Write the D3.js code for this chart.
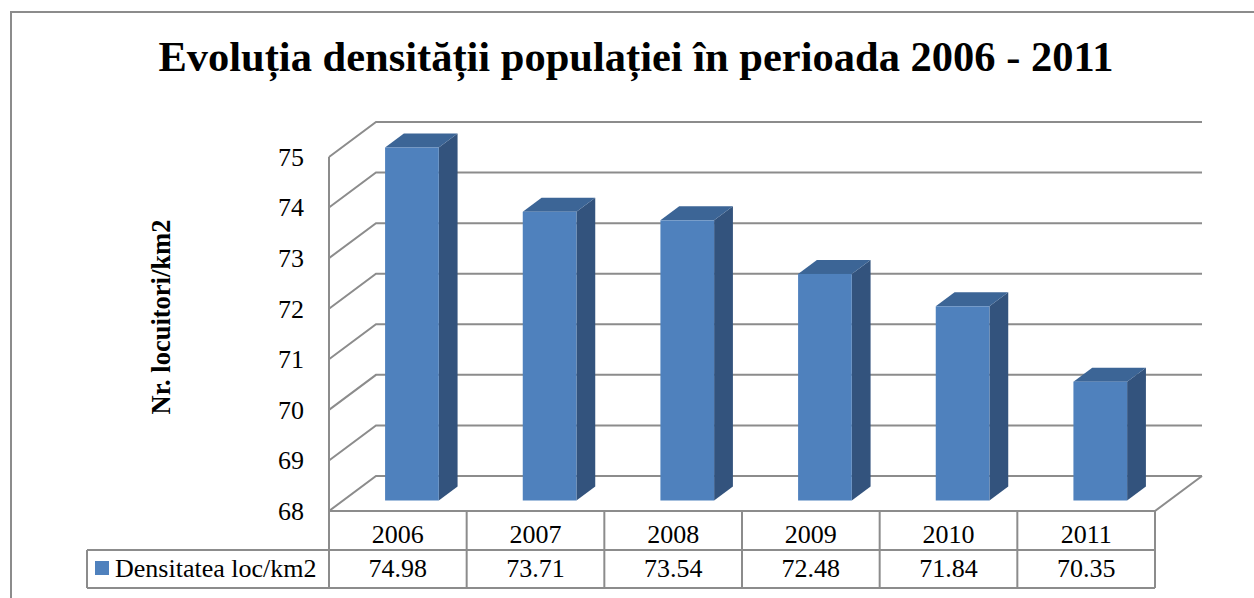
<!DOCTYPE html>
<html>
<head>
<meta charset="utf-8">
<script src="https://cdn.jsdelivr.net/npm/d3@7"></script>
<style>
  body { margin: 0; background: #fff; }
</style>
</head>
<body>
<div id="chart"></div>
<script>
// data
const years = ["2006", "2007", "2008", "2009", "2010", "2011"];
const densities = [74.98, 73.71, 73.54, 72.48, 71.84, 70.35];
const yTicks = [68, 69, 70, 71, 72, 73, 74, 75];
const seriesName = "Densitatea loc/km2";
const chartTitle = "Evoluția densității populației în perioada 2006 - 2011";
const yTitle = "Nr. locuitori/km2";

const W = 1254, H = 598;
const gridColor = "#8c8c8c";
const DX = 47, DY = -35; // depth of the 3d box

let svg = d3.select("#chart")
    .append("svg")
    .attr("width", W)
    .attr("height", H)
    .style("font-family", '"Liberation Serif", "Times New Roman", serif');

// outer frame
svg.append("path")
    .attr("d", "M11,598 L11,12 L1254,12")
    .attr("fill", "none")
    .attr("stroke", gridColor)
    .attr("stroke-width", 2);

let x = d3.scaleBand().domain(years).range([329, 1155]);
let y = d3.scaleLinear().domain([68, 75]).range([511, 157]);

// title
svg.append("text")
    .attr("x", 636)
    .attr("y", 71)
    .attr("text-anchor", "middle")
    .style("font-size", "42.5px")
    .style("font-weight", "bold")
    .text(chartTitle);

// y title
svg.append("text")
    .attr("transform", "translate(170,317) rotate(-90)")
    .attr("text-anchor", "middle")
    .style("font-size", "26.5px")
    .style("font-weight", "bold")
    .text(yTitle);

let x0 = x.range()[0], x1 = x.range()[1];

// gridlines: side wall + back wall
let grid = svg.append("g")
    .attr("fill", "none")
    .attr("stroke", gridColor)
    .attr("stroke-width", 2);
yTicks.forEach(function(t) {
    grid.append("path")
        .attr("d", `M${x0},${y(t)} L${x0 + DX},${y(t) + DY} L${x1 + DX},${y(t) + DY}`);
});
// front vertical axis + floor outline
grid.append("path")
    .attr("d", `M${x0},${y(75)} L${x0},${y(68)} L${x1},${y(68)} L${x1 + DX},${y(68) + DY}`);

// tick labels
svg.append("g").selectAll("text")
    .data(yTicks)
    .enter().append("text")
    .attr("x", 304)
    .attr("y", d => y(d))
    .attr("dy", "0.34em")
    .attr("text-anchor", "end")
    .style("font-size", "26px")
    .text(d => d);

// bars
const d1 = 0.3, d2 = 0.7;
const bw = x.bandwidth() * 0.39;
let bars = svg.append("g").selectAll("g")
    .data(years.map((yr, i) => ({year: yr, value: densities[i]})))
    .enter().append("g");

function face(d) {
    let left = x(d.year) + (x.bandwidth() - bw) / 2 + DX * d1;
    let right = left + bw;
    let top = y(d.value) + DY * d1;
    let bottom = y(68) + DY * d1;
    let ddx = DX * (d2 - d1), ddy = DY * (d2 - d1);
    return {left, right, top, bottom, ddx, ddy};
}

bars.append("path")
    .attr("fill", "#33537d")
    .attr("d", function(d) {
        let f = face(d);
        return `M${f.right},${f.top} L${f.right + f.ddx},${f.top + f.ddy} L${f.right + f.ddx},${f.bottom + f.ddy} L${f.right},${f.bottom}Z`;
    });
bars.append("path")
    .attr("fill", "#3c6596")
    .attr("d", function(d) {
        let f = face(d);
        return `M${f.left},${f.top} L${f.left + f.ddx},${f.top + f.ddy} L${f.right + f.ddx},${f.top + f.ddy} L${f.right},${f.top}Z`;
    });
bars.append("rect")
    .attr("fill", "#4f81bd")
    .attr("x", d => face(d).left)
    .attr("y", d => face(d).top)
    .attr("width", bw)
    .attr("height", d => face(d).bottom - face(d).top);

// data table
const rowTop = y(68), rowMid = 550, rowBot = 588, legendLeft = 87;
let table = svg.append("g")
    .attr("fill", "none")
    .attr("stroke", gridColor)
    .attr("stroke-width", 2);
table.append("path").attr("d", `M${legendLeft},${rowMid} L${x1},${rowMid} M${legendLeft},${rowBot} L${x1},${rowBot} M${legendLeft},${rowMid} L${legendLeft},${rowBot}`);
years.concat(["end"]).forEach(function(yr) {
    let xx = yr == "end" ? x1 : x(yr);
    table.append("path").attr("d", `M${xx},${rowTop} L${xx},${rowBot}`);
});

svg.append("g").selectAll("text")
    .data(years)
    .enter().append("text")
    .attr("x", d => x(d) + x.bandwidth() / 2)
    .attr("y", 543)
    .attr("text-anchor", "middle")
    .style("font-size", "26px")
    .text(d => d);

svg.append("g").selectAll("text")
    .data(densities)
    .enter().append("text")
    .attr("x", (d, i) => x(years[i]) + x.bandwidth() / 2)
    .attr("y", 577)
    .attr("text-anchor", "middle")
    .style("font-size", "26px")
    .text(d => d.toFixed(2));

// legend
svg.append("rect")
    .attr("x", 95).attr("y", 561)
    .attr("width", 14).attr("height", 14)
    .attr("fill", "#4f81bd");
svg.append("text")
    .attr("x", 115)
    .attr("y", 577)
    .style("font-size", "26px")
    .text(seriesName);
</script>
</body>
</html>
